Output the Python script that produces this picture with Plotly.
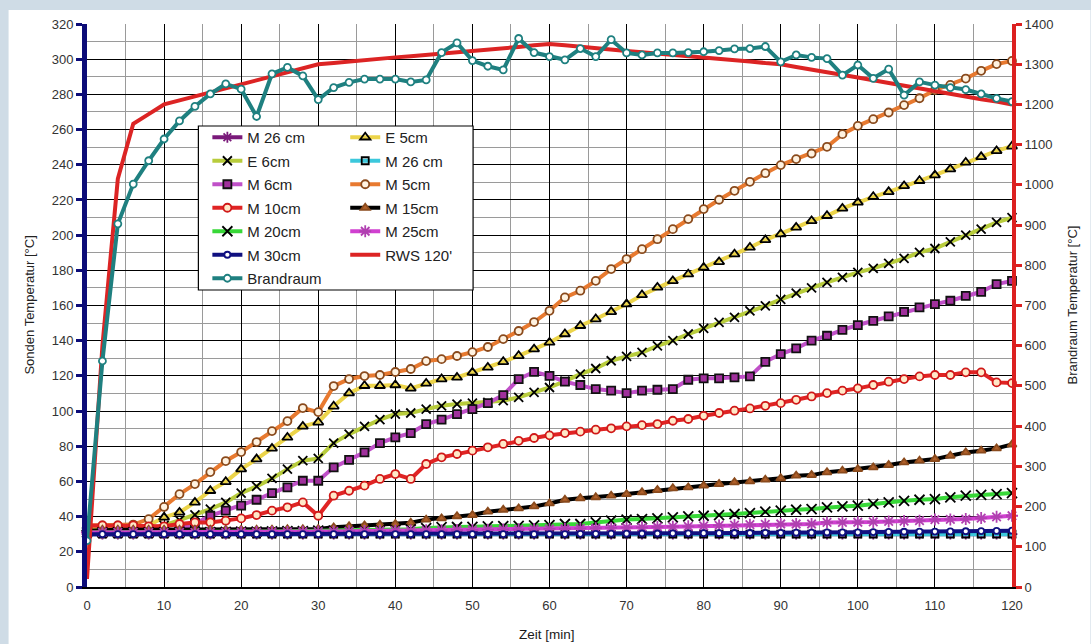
import plotly.graph_objects as go

# ---------------- data ----------------
zeit = [0, 2, 4, 6, 8, 10, 12, 14, 16, 18, 20, 22, 24, 26, 28, 30, 32, 34, 36, 38, 40,
        42, 44, 46, 48, 50, 52, 54, 56, 58, 60, 62, 64, 66, 68, 70, 72, 74, 76, 78, 80,
        82, 84, 86, 88, 90, 92, 94, 96, 98, 100, 102, 104, 106, 108, 110, 112, 114, 116, 118, 120]

m26_a = [30, 30, 30, 30, 30, 30, 30, 30, 30, 30, 30, 30, 30, 30, 30, 30, 30, 30, 30, 30, 30,
         30, 30, 30, 30, 30, 30, 30, 30, 30, 30, 30, 30, 30, 30, 30, 30, 30, 30, 30, 30,
         30, 30, 30, 30, 30, 30, 30, 30, 30, 30, 30, 30, 30, 30, 30, 30, 30, 30, 30, 30]
e5 = [33, 33, 33, 34, 35, 39.6, 42.4, 48.1, 54.7, 59.8, 67, 72.7, 78.8, 85, 91.3, 93.6, 102.7, 110.2, 114.4, 114.4, 114.8,
      112.9, 115.7, 118.2, 119.1, 122, 124.8, 128, 131.4, 135.2, 139, 143.8, 148.5, 152.3, 156.4, 160.8, 166, 170.3, 174, 177.8, 181.6,
      184.8, 189.2, 193, 197.3, 200.6, 204.4, 208.1, 211, 215.2, 218.6, 221.8, 224.6, 228, 230.9, 234.1, 237.5, 241.3, 244.5, 247.9, 250.5]
e6 = [32, 32, 32, 32, 33, 35, 38, 41, 44.3, 48.1, 53.4, 57.2, 61.7, 67, 71.8, 73.1, 81.8, 86.9, 91.3, 95.1, 98.3,
      98.9, 101.1, 103, 104, 104.5, 105, 105.9, 107.8, 110.6, 113.4, 117, 121, 124.2, 128.6, 131.1, 133.3, 137.1, 140, 143.8, 147,
      150.4, 153.2, 157, 159.8, 163.5, 167, 170, 173.1, 176, 178.8, 181.1, 183.9, 186.8, 190.2, 192.4, 196.2, 200, 203.4, 207.2, 210]
m26_b = [30, 30, 30, 30, 30, 30, 30, 30, 30, 30, 30, 30, 30, 30, 30, 30, 30, 30, 30, 30, 30,
         30, 30, 30, 30, 30, 30, 30, 30, 30, 30, 30, 30, 30, 30, 30, 30, 30, 30, 30, 30,
         30, 30, 30, 30, 30, 30, 30, 30, 30, 30, 30, 30, 30, 30, 30, 30, 30, 30, 30, 30]
m6 = [31, 31, 31, 31, 31, 31.5, 33, 36, 40.5, 43.4, 46.2, 49.6, 53.4, 56.6, 60.4, 60.4, 68, 72.3, 76.5, 81.8, 85,
      87.5, 92.6, 95.1, 98.3, 101.1, 104.5, 109.1, 118.2, 122.3, 120, 116.7, 114.8, 112.5, 111.6, 110.2, 111.6, 112.1, 112.5, 117.8, 118.6,
      118.6, 119.1, 119.7, 128, 132.4, 135.6, 140, 142.8, 146.2, 148.9, 151.3, 153.8, 156.4, 158.9, 160.8, 162.7, 165.5, 167.8, 172.2, 174]
m5 = [35, 35, 35, 35.5, 38.6, 45.5, 52.8, 58.5, 65.3, 71.6, 76.7, 82.4, 88.6, 94.3, 101.7, 99.4, 114.2, 118.2, 119.9, 120.5, 122.2,
      123.9, 128.4, 129.5, 131.3, 133.5, 136.4, 140.9, 145.5, 150.6, 157, 164.6, 168.4, 174, 180.7, 186.4, 192, 197.7, 203.4, 209.1, 214.8,
      220.1, 225.2, 230.3, 235.2, 239.8, 243.2, 246.4, 250.2, 257.4, 262.1, 265.9, 269.7, 273.9, 277.8, 282.4, 285.4, 289, 293.4, 297.2, 299]
m10 = [35, 35, 35, 35, 34.5, 34.5, 35.8, 36.7, 36.7, 37.7, 39, 40.9, 43.4, 45.3, 48.1, 40.5, 51.9, 54.7, 57.6, 61.4, 64.2,
       61.4, 69.9, 73.7, 75.6, 77.5, 79.4, 81.3, 83.1, 84.7, 86.2, 87.5, 88.3, 89.4, 90.2, 91.3, 92, 92.6, 94.5, 95.5, 97.3,
       98.9, 100.2, 101.5, 103, 104.5, 106.4, 108.3, 110.2, 111.6, 112.9, 114.8, 116.7, 118.2, 119.7, 120.5, 120.5, 122, 122, 116.3, 115.9]
m15 = [32, 32.5, 32.5, 32.5, 32.5, 32.5, 32.5, 32.5, 32.5, 32.5, 32.5, 32.5, 32.5, 32.8, 32.8, 33, 33.9, 34.5, 35, 35.4, 35.8,
       36.5, 38.3, 39, 40.2, 40.9, 42.8, 43.9, 44.7, 45.8, 47.5, 49.6, 50.4, 51, 51.9, 52.8, 53.8, 55.1, 56.1, 56.6, 57.6,
       58.5, 59.5, 60, 61, 61.8, 63.3, 63.6, 65.2, 66.1, 67, 68, 69.3, 70.8, 71.8, 72.7, 74.6, 76.5, 77.5, 78.8, 81]
m20 = [31, 31, 31, 31, 31, 31, 31, 31, 31.2, 31.3, 31.5, 31.5, 31.6, 31.7, 31.8, 32, 32, 32.1, 32.2, 32.3, 32.5,
       32.8, 33.5, 34, 34.1, 34.2, 34.4, 34.6, 34.8, 35, 35.2, 35.8, 35.8, 36.7, 37.7, 38.3, 38.6, 39, 39.6, 40.2, 40.5,
       40.9, 41.5, 42, 42.8, 43.4, 43.9, 44.3, 45.3, 45.8, 46.2, 47.2, 48.1, 49, 49.6, 50, 51, 51.9, 52.3, 52.8, 53.4]
m25 = [31, 31, 31, 31, 31, 31, 31, 31, 31, 31, 31.2, 31.2, 31.3, 31.3, 31.4, 31.5, 31.6, 31.7, 31.8, 31.9, 32,
       32.1, 32.2, 32.3, 32.4, 32.5, 32.6, 32.7, 32.8, 32.9, 33, 33.1, 33.3, 33.4, 33.6, 33.8, 33.9, 34.1, 34.3, 34.5, 34.8,
       35, 35.2, 35.4, 35.6, 35.8, 35.8, 35.8, 36.7, 36.7, 36.8, 37, 37.3, 37.5, 37.7, 38.3, 38.4, 38.6, 39.2, 39.9, 40.5]
m30 = [30, 30, 30, 30, 30, 30, 30, 30, 30, 30, 30, 30, 30, 30, 30, 30, 30, 30, 30, 30, 30,
       30, 30, 30, 30, 30, 30, 30, 30, 30, 30.1, 30.1, 30.2, 30.2, 30.3, 30.3, 30.4, 30.4, 30.5, 30.5, 30.6,
       30.6, 30.7, 30.7, 30.8, 30.8, 30.9, 30.9, 31, 31, 31.1, 31.2, 31.3, 31.4, 31.5, 31.5, 31.6, 31.7, 31.8, 31.9, 32]
rws = [20, 600, 1015, 1152, 1176, 1200, 1210, 1220, 1230, 1240, 1250, 1260, 1270, 1280, 1290, 1300, 1303, 1307, 1310, 1313, 1317,
       1320, 1323, 1327, 1330, 1333, 1337, 1340, 1343, 1347, 1350, 1347, 1343, 1340, 1337, 1333, 1330, 1327, 1323, 1320, 1317,
       1313, 1310, 1307, 1303, 1300, 1293, 1287, 1280, 1273, 1267, 1260, 1253, 1247, 1240, 1233, 1227, 1220, 1213, 1207, 1200]
brandraum = [115, 562, 903, 1002, 1060, 1114, 1159, 1195, 1226, 1251, 1238, 1170, 1276, 1292, 1271, 1212, 1242, 1255, 1263, 1263, 1263,
             1256, 1261, 1329, 1353, 1309, 1295, 1286, 1364, 1329, 1319, 1311, 1339, 1319, 1361, 1328, 1323, 1328, 1328, 1329, 1331,
             1334, 1338, 1339, 1344, 1306, 1323, 1317, 1314, 1273, 1298, 1265, 1288, 1223, 1256, 1248, 1242, 1237, 1226, 1215, 1207]

x_ticks = [0, 10, 20, 30, 40, 50, 60, 70, 80, 90, 100, 110, 120]
y_ticks = [0, 20, 40, 60, 80, 100, 120, 140, 160, 180, 200, 220, 240, 260, 280, 300, 320]
y2_ticks = [0, 100, 200, 300, 400, 500, 600, 700, 800, 900, 1000, 1100, 1200, 1300, 1400]

# ---------------- figure ----------------
FONT = "Liberation Sans, Arial, sans-serif"
fig = go.Figure()

def add(name, y, line_color, symbol=None, mcolor=None, mline=None, msize=7, legend="legend", yaxis="y", width=4):
    mode = "lines+markers" if symbol else "lines"
    marker = None
    if symbol:
        marker = dict(symbol=symbol, size=msize, color=mcolor,
                      line=dict(color=mline if mline else mcolor, width=1.8))
    fig.add_trace(go.Scatter(x=zeit, y=y, name=name, mode=mode, yaxis=yaxis,
                             line=dict(color=line_color, width=width),
                             marker=marker, legend=legend, legendgroup=name + legend + str(len(fig.data)),
                             cliponaxis=False))

add("M 26 cm", m26_a, "#7a1a7a", "asterisk-open", "#7a1a7a", msize=9, legend="legend")
add("E 5cm", e5, "#ecd44a", "triangle-up-open", "#000000", msize=9, legend="legend2")
add("E 6cm", e6, "#b8cc3c", "x-thin-open", "#000000", msize=9, legend="legend")
add("M 26 cm", m26_b, "#3cc8dc", "square-open", "#000000", msize=7, legend="legend2")
add("M 6cm", m6, "#c050c8", "square", "#a0309c", "#111111", msize=8, legend="legend")
add("M 5cm", m5, "#e87a30", "circle", "#fff2e0", "#8a4a1c", msize=8, legend="legend2")
add("M 10cm", m10, "#e02424", "circle", "#ffe8c8", "#d01818", msize=8, legend="legend")
add("M 15cm", m15, "#000000", "triangle-up", "#b0602a", "#8a4a1c", msize=8, legend="legend2")
add("M 20cm", m20, "#38d838", "x-thin-open", "#000000", msize=10, legend="legend")
add("M 25cm", m25, "#d040d0", "asterisk-open", "#b040b0", msize=10, legend="legend2")
add("M 30cm", m30, "#101080", "circle", "#ffffff", "#101080", msize=6, legend="legend")
add("RWS 120'", rws, "#dc2424", None, legend="legend2", yaxis="y2", width=4)
add("Brandraum", brandraum, "#1f8080", "circle", "#ffffff", "#1f8080", msize=7, legend="legend", yaxis="y2")

L, R, T, B = 86.5, 78.5, 24, 57
W, H = 1091, 644
pw, ph = W - L - R, H - T - B

def px(x):
    return (x - L) / pw

def py(y):
    return (H - B - y) / ph

leg_common = dict(xanchor="left", yanchor="top", bgcolor="rgba(0,0,0,0)", borderwidth=0,
                  font=dict(family=FONT, size=15, color="#222222"),
                  traceorder="grouped", tracegroupgap=1, itemwidth=30)

fig.update_layout(
    width=W, height=H,
    margin=dict(l=L, r=R, t=T, b=B, pad=0, autoexpand=False),
    paper_bgcolor="#cfdce6",
    plot_bgcolor="#ffffff",
    font=dict(family=FONT, size=13, color="#333333"),
    showlegend=True,
    xaxis=dict(range=[0, 120], tickvals=x_ticks, showgrid=True, gridcolor="#000000", gridwidth=1,
               minor=dict(dtick=5, showgrid=True, gridcolor="#9a9a9a", gridwidth=1),
               showline=True, linecolor="#000000", linewidth=1.5, zeroline=False, automargin=False,
               ticks="", tickfont=dict(size=13, color="#333333"), ticklabelstandoff=6),
    yaxis=dict(range=[0, 320], tickvals=y_ticks, showgrid=True, gridcolor="#000000", gridwidth=1,
               minor=dict(dtick=10, showgrid=True, gridcolor="#9a9a9a", gridwidth=1),
               showline=True, linecolor="#0c0c78", linewidth=5, zeroline=False, automargin=False,
               ticks="outside", ticklen=6, tickwidth=3, tickcolor="#0c0c78",
               tickfont=dict(size=13, color="#333333")),
    yaxis2=dict(range=[0, 1400], tickvals=y2_ticks, overlaying="y", side="right", showgrid=False,
                showline=True, linecolor="#dc2020", linewidth=4, zeroline=False, automargin=False,
                ticks="outside", ticklen=6, tickwidth=3, tickcolor="#dc2020",
                tickfont=dict(size=13, color="#333333")),
    legend=dict(x=px(207), y=py(121), **leg_common),
    legend2=dict(x=px(345), y=py(121), **leg_common),
    shapes=[
        dict(type="rect", xref="paper", yref="paper", x0=px(8), x1=px(1091), y0=py(644), y1=py(10),
             fillcolor="#ffffff", line=dict(width=0), layer="below"),
        dict(type="rect", xref="paper", yref="paper", x0=px(198), x1=px(473), y0=py(290), y1=py(126),
             fillcolor="#ffffff", line=dict(color="#000000", width=1.2), layer="above"),
    ],
    annotations=[
        dict(text="Zeit [min]", xref="paper", yref="paper", x=px(547), y=py(634), showarrow=False,
             font=dict(size=13.5, color="#1a1a1a"), xanchor="center", yanchor="middle"),
        dict(text="Sonden Temperatur [°C]", xref="paper", yref="paper", x=px(28), y=py(305), showarrow=False,
             textangle=-90, font=dict(size=13, color="#222222"), xanchor="center", yanchor="middle"),
        dict(text="Brandraum Temperatur [°C]", xref="paper", yref="paper", x=px(1073), y=py(305), showarrow=False,
             textangle=-90, font=dict(size=13, color="#222222"), xanchor="center", yanchor="middle"),
    ],
)

fig.write_html("out.html", config={"displayModeBar": False},
               post_script="document.body.style.margin='0';document.body.style.padding='0';document.body.style.overflow='hidden';")
